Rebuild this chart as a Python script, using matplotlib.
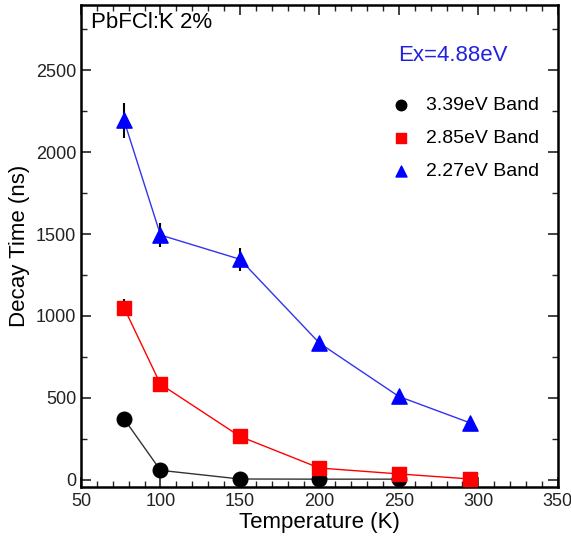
import numpy as np
import matplotlib.pyplot as plt
from matplotlib.ticker import MultipleLocator

plt.rcParams['font.family'] = ['Liberation Sans', 'DejaVu Sans']

# temperatures (K)
T_black = [77, 100, 150, 200, 250]
T_red = [77, 100, 150, 200, 250, 295]
T_blue = [77, 100, 150, 200, 250, 295]

# decay times (ns)
tau_339 = [372, 57, 4, 3, 3]
tau_285 = [1051, 583, 264, 71, 35, 4]
tau_227 = [2195, 1494, 1346, 834, 508, 346]

# error bars
err_285 = [50, 0, 0, 0, 0, 0]
err_227 = [107, 73, 70, 0, 0, 0]

labels = ['3.39eV Band', '2.85eV Band', '2.27eV Band']

fig = plt.figure(figsize=(5.71, 5.43), dpi=100)
ax = fig.add_axes([0.1419, 0.1031, 0.835, 0.888])

ax.errorbar(T_red, tau_285, yerr=err_285, fmt='none', ecolor='k', elinewidth=1.5, zorder=2)
ax.errorbar(T_blue, tau_227, yerr=err_227, fmt='none', ecolor='k', elinewidth=1.5, zorder=2)

ax.plot(T_black, tau_339, color='#333333', lw=1, zorder=3)
ax.plot(T_red, tau_285, color='red', lw=1, zorder=3)
ax.plot(T_blue, tau_227, color='#3333ee', lw=1, zorder=3)

h1 = ax.scatter(T_black, tau_339, marker='o', s=110, color='black', zorder=4, label=labels[0])
h2 = ax.scatter(T_red, tau_285, marker='s', s=110, color='red', zorder=4, label=labels[1])
h3 = ax.scatter(T_blue, tau_227, marker='^', s=120, color='blue', zorder=4, label=labels[2])

ax.set_xlim(50, 350)
ax.set_ylim(-45, 2900)
ax.xaxis.set_major_locator(MultipleLocator(50))
ax.xaxis.set_minor_locator(MultipleLocator(10))
ax.yaxis.set_major_locator(MultipleLocator(500))
ax.yaxis.set_minor_locator(MultipleLocator(250))
ax.tick_params(which='both', direction='in', top=True, right=True, labelsize=13, colors='#222222')
ax.tick_params(which='major', length=7, width=1.2)
ax.tick_params(which='minor', length=4, width=1)
ax.tick_params(axis='x', pad=4)
for s in ax.spines.values():
    s.set_linewidth(1.8)

ax.set_xlabel('Temperature (K)', fontsize=16, labelpad=2)
ax.set_ylabel('Decay Time (ns)', fontsize=16)

ax.text(0.02, 0.985, 'PbFCl:K 2%', transform=ax.transAxes, fontsize=16, va='top', ha='left')
ax.text(0.665, 0.895, 'Ex=4.88eV', transform=ax.transAxes, fontsize=16, va='center', ha='left', color='#2222dd')

leg = ax.legend(handles=[h1, h2, h3], loc='upper left', bbox_to_anchor=(0.615, 0.847),
                frameon=False, fontsize=14, handlelength=1, handletextpad=0.75,
                labelspacing=0.8, markerscale=0.72, scatterpoints=1)

fig.savefig('out.png', dpi=100)
